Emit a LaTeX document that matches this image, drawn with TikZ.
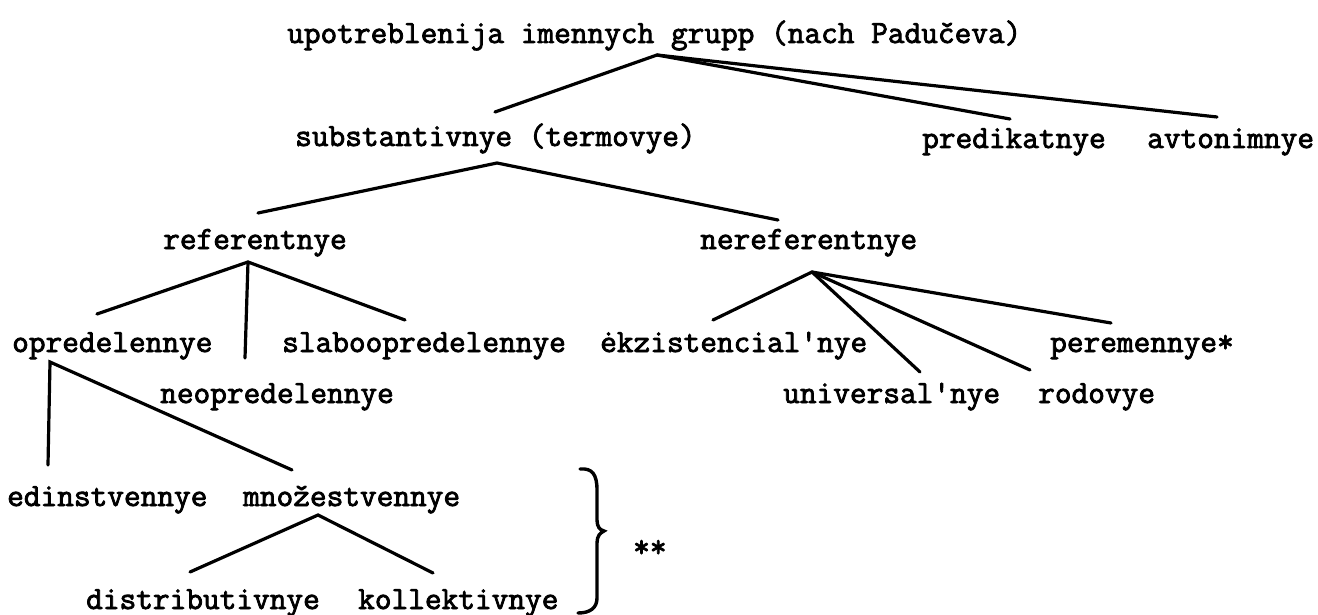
\documentclass[tikz,border=0pt]{standalone}
\usepackage{fontspec}
\newfontfamily\tw{Latin Modern Mono}[FakeBold=2.5,Ligatures=TeXOff]
\begin{document}
\begin{tikzpicture}[x=1pt,y=-1pt,
  lbl/.style={font=\tw\fontsize{32.4}{38}\selectfont, inner sep=0pt, anchor=base west},
  edge/.style={line width=3.2pt, line cap=round},
  brace/.style={line width=3.4pt, line cap=round}]
\useasboundingbox (0,0) rectangle (1318,615);
\fill[white] (0,0) rectangle (1318,615);
% labels
\node[lbl] (title) at (287,43) {upotreblenija imennych grupp (nach Padučeva)};
\node[lbl] (subst) at (295,146) {substantivnye (termovye)};
\node[lbl] (pred) at (922,148) {predikatnye};
\node[lbl] (avto) at (1147,148) {avtonimnye};
\node[lbl] (ref) at (163,249) {referentnye};
\node[lbl] (neref) at (700,249) {nereferentnye};
\node[lbl] (opr) at (12,352) {opredelennye};
\node[lbl] (slabo) at (282,352) {slaboopredelennye};
\node[lbl] (ekz) at (600,352) {ėkzistencial'nye};
\node[lbl] (perem) at (1050,352) {peremennye*};
\node[lbl] (neopr) at (160,403) {neopredelennye};
\node[lbl] (univ) at (783,403) {universal'nye};
\node[lbl] (rod) at (1038,403) {rodovye};
\node[lbl] (edin) at (7,506) {edinstvennye};
\node[lbl] (mnoz) at (243,506) {množestvennye};
\node[lbl] (distr) at (86,609) {distributivnye};
\node[lbl] (koll) at (358,609) {kollektivnye};
\node[lbl] (stars) at (633,557) {**};
% connector points
\coordinate (tA) at (657,55);
\coordinate (tS) at (495,112);
\coordinate (tP) at (1010,119);
\coordinate (tV) at (1217,117);
\coordinate (sA) at (497,163);
\coordinate (sR) at (258,213);
\coordinate (sN) at (778,220);
\coordinate (rA) at (248,262);
\coordinate (rO) at (97,314);
\coordinate (rN) at (245,358);
\coordinate (rS) at (405,320);
\coordinate (oA) at (50,362);
\coordinate (oE) at (48,465);
\coordinate (oM) at (292,470);
\coordinate (mA) at (318,515);
\coordinate (mD) at (190,572);
\coordinate (mK) at (433,573);
\coordinate (nA) at (812,272);
\coordinate (nE) at (713,320);
\coordinate (nU) at (920,372);
\coordinate (nR) at (1030,370);
\coordinate (nP) at (1111,323);
% connectors
\draw[edge] (tS) -- (tA) -- (tP);
\draw[edge] (tA) -- (tV);
\draw[edge] (sR) -- (sA) -- (sN);
\draw[edge] (rO) -- (rA) -- (rS);
\draw[edge] (rA) -- (rN);
\draw[edge] (oE) -- (oA) -- (oM);
\draw[edge] (mD) -- (mA) -- (mK);
\draw[edge] (nE) -- (nA) -- (nP);
\draw[edge] (nA) -- (nU);
\draw[edge] (nA) -- (nR);
% brace
\draw[brace] (580,469) .. controls (592,468) and (597,474) .. (597,490) -- (597,520)
  .. controls (597,527) and (600,530) .. (604,531)
  .. controls (600,533) and (597,536) .. (597,543) -- (597,598)
  .. controls (597,608) and (590,613) .. (578,613);
\end{tikzpicture}
\end{document}
